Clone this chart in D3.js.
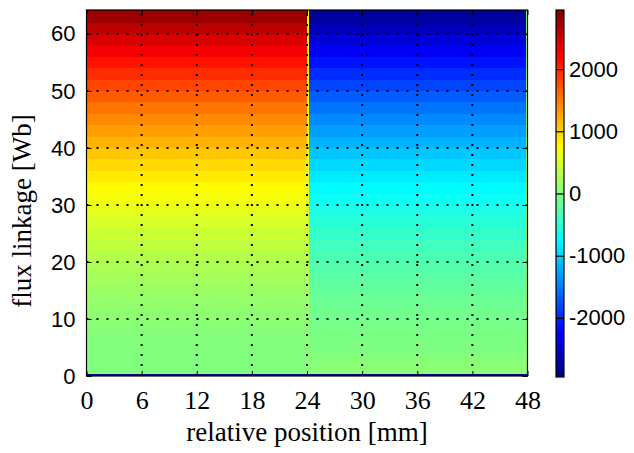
<!DOCTYPE html>
<html>
<head>
<meta charset="utf-8">
<script src="https://cdn.jsdelivr.net/npm/d3@7"></script>
<style>
  html, body { margin: 0; padding: 0; background: #fff; }
  svg { display: block; }
</style>
</head>
<body>
<script>
// ---------------- data ----------------
const xTicks = [0, 6, 12, 18, 24, 30, 36, 42, 48];
const yTicks = [0, 10, 20, 30, 40, 50, 60];
const cTicks = [-2000, -1000, 0, 1000, 2000];

// column edges along relative position [mm]
const positionEdges = [0, 24, 24.25, 47.8, 48];

// row edges along flux linkage [Wb]
const fluxEdges = [0, 0.3, 2, 4, 6, 8, 10, 12, 14, 16, 18, 20, 22, 24, 26, 28, 30,
  32, 34, 36, 38, 40, 42, 44, 46, 48, 50, 52, 54, 56, 58, 60, 62, 64.2];

// cell values, one per row (bottom to top) for each column
const leftValues = [-2850, 1, 6, 17, 34, 56, 85, 118, 157, 202, 253, 309, 370, 437, 510,
  588, 672, 762, 857, 958, 1064, 1176, 1294, 1417, 1546, 1680, 1820, 1966, 2117,
  2274, 2436, 2604, 2790];
const boundaryValues = [-2850, 60, 80, 100, 120, 150, 180, 210, 240, 270, 300, 330, 360,
  390, 420, 450, 480, 510, 540, 560, 580, 600, 620, 640, 650, 660, 670, 680, 690,
  700, 710, 720, 730];
const rightValues = [-2850, 60, 40, -17, -34, -56, -85, -118, -157, -202, -253, -309,
  -370, -437, -510, -588, -672, -762, -857, -958, -1064, -1176, -1294, -1417, -1546,
  -1680, -1820, -1966, -2117, -2274, -2436, -2604, -2790];
const edgeValues = [-2850, 90, 90, 90, 90, 90, 90, 90, 90, 90, 90, 90, 90, 90, 90, 90,
  90, 90, 90, 90, 90, 90, 90, 90, 90, 90, 90, 90, 90, 90, 90, 90, 90];

const colorDomain = [-2950, 2950];

// ---------------- drawing ----------------
const W = 634, H = 453;
const svg = d3.select("body").append("svg").attr("width", W).attr("height", H);

const x = d3.scaleLinear().domain([0, 48]).range([86.5, 527.5]);
const y = d3.scaleLinear().domain([0, 64.2]).range([376, 10]);

function jet(t) {
  const c = v => Math.max(0, Math.min(1, v));
  const r = c(1.5 - Math.abs(4 * t - 3));
  const g = c(1.5 - Math.abs(4 * t - 2));
  const b = c(1.5 - Math.abs(4 * t - 1));
  return d3.rgb(r * 255, g * 255, b * 255).toString();
}
const tScale = d3.scaleLinear().domain(colorDomain).range([0, 1]).clamp(true);
const color = v => jet(tScale(v));

const columns = [leftValues, boundaryValues, rightValues, edgeValues];
const cells = [];
columns.forEach((vals, ci) => {
  vals.forEach((v, ri) => {
    cells.push({ x0: positionEdges[ci], x1: positionEdges[ci + 1],
                 y0: fluxEdges[ri], y1: fluxEdges[ri + 1], v });
  });
});

svg.append("g").attr("shape-rendering", "crispEdges")
  .selectAll("rect").data(cells).join("rect")
  .attr("x", d => x(d.x0))
  .attr("width", d => x(d.x1) - x(d.x0))
  .attr("y", d => y(d.y1))
  .attr("height", d => y(d.y0) - y(d.y1))
  .attr("fill", d => color(d.v));

// dotted grid
const grid = svg.append("g").attr("stroke", "#000").attr("stroke-width", 2)
  .attr("stroke-dasharray", "2 8");
grid.selectAll("line.gx").data(xTicks.slice(1, -1)).join("line")
  .attr("x1", d => x(d)).attr("x2", d => x(d))
  .attr("y1", y(0)).attr("y2", y.range()[1]);
grid.selectAll("line.gy").data(yTicks.slice(1)).join("line")
  .attr("y1", d => y(d)).attr("y2", d => y(d))
  .attr("x1", x(0)).attr("x2", x(48));

// axes
const serif = "'Liberation Serif', 'Times New Roman', serif";
const sans = "'Liberation Sans', Arial, sans-serif";

const gx = svg.append("g").attr("transform", `translate(0,${y(0)})`)
  .call(d3.axisBottom(x).tickValues(xTicks).tickSizeInner(-5).tickSizeOuter(0).tickPadding(15));
gx.selectAll("text").attr("font-family", serif).attr("font-size", 26).attr("fill", "#000");

const gy = svg.append("g").attr("transform", `translate(${x(0)},0)`)
  .call(d3.axisLeft(y).tickValues(yTicks).tickSizeInner(-5).tickSizeOuter(0).tickPadding(11));
gy.selectAll("text").attr("font-family", sans).attr("font-size", 22).attr("fill", "#000");

const gt = svg.append("g").attr("transform", `translate(0,${y.range()[1]})`)
  .call(d3.axisTop(x).tickValues(xTicks).tickSizeInner(-5).tickSizeOuter(0).tickFormat(""));
const gr = svg.append("g").attr("transform", `translate(${x(48)},0)`)
  .call(d3.axisRight(y).tickValues(yTicks).tickSizeInner(-5).tickSizeOuter(0).tickFormat(""));
[gx, gy, gt, gr].forEach(g => {
  g.select(".domain").remove();
  g.selectAll("line").attr("stroke", "#000");
});

// box
svg.append("rect")
  .attr("x", x(0)).attr("y", y.range()[1])
  .attr("width", x(48) - x(0)).attr("height", y(0) - y.range()[1])
  .attr("fill", "none").attr("stroke", "#000").attr("stroke-width", 1.2);

// axis labels
svg.append("text")
  .attr("x", (x(0) + x(48)) / 2).attr("y", 441)
  .attr("text-anchor", "middle")
  .attr("font-family", serif).attr("font-size", 27)
  .text("relative position [mm]");
svg.append("text")
  .attr("transform", "translate(31,211) rotate(-90)")
  .attr("text-anchor", "middle")
  .attr("font-family", serif).attr("font-size", 27)
  .text("flux linkage [Wb]");

// colorbar
const cb = { x0: 556, x1: 564 };
const c = d3.scaleLinear().domain(colorDomain).range([377, 10]);
const defs = svg.append("defs");
const grad = defs.append("linearGradient").attr("id", "jetgrad")
  .attr("x1", 0).attr("y1", 1).attr("x2", 0).attr("y2", 0);
d3.range(0, 65).forEach(i => {
  const t = i / 64;
  grad.append("stop").attr("offset", t).attr("stop-color", jet(t));
});
svg.append("rect")
  .attr("x", cb.x0).attr("y", c.range()[1])
  .attr("width", cb.x1 - cb.x0).attr("height", c.range()[0] - c.range()[1])
  .attr("fill", "url(#jetgrad)").attr("stroke", "#000").attr("stroke-width", 1.2);

const gc = svg.append("g").attr("transform", `translate(${cb.x0},0)`)
  .call(d3.axisRight(c).tickValues(cTicks).tickSizeInner(cb.x1 - cb.x0).tickSizeOuter(0)
    .tickPadding(5).tickFormat(d => String(d)));
gc.select(".domain").remove();
gc.selectAll("line").attr("stroke", "#000").attr("stroke-width", 1.2);
gc.selectAll("text").attr("font-family", sans).attr("font-size", 22).attr("fill", "#000");
</script>
</body>
</html>
